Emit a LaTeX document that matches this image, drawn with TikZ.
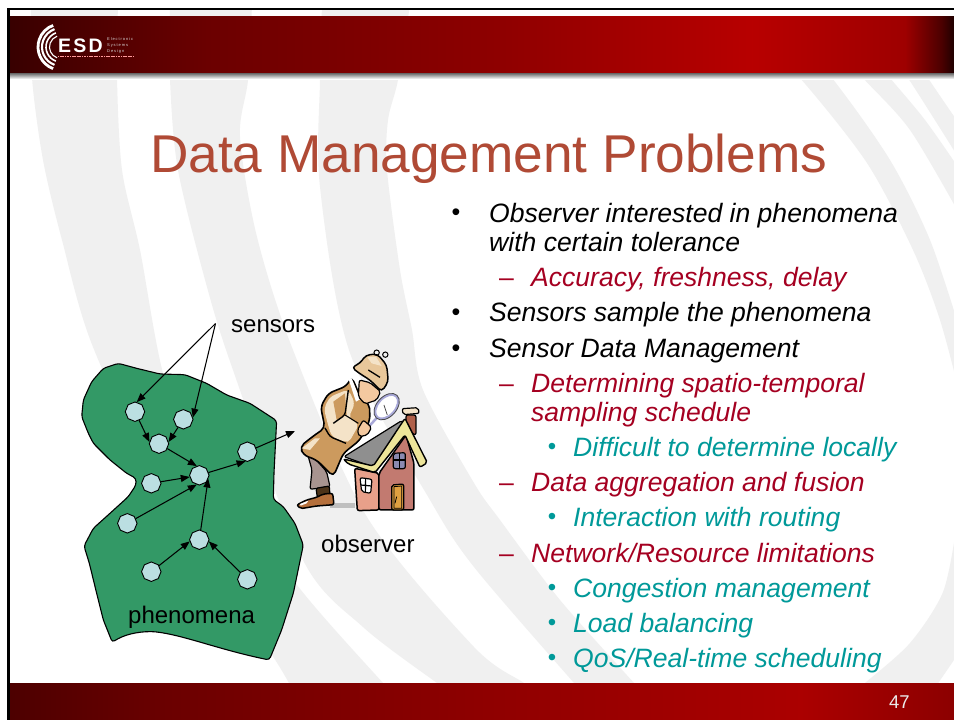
\documentclass[tikz,border=0pt]{standalone}
\usepackage{fontspec}
\setmainfont{Liberation Sans}
\newfontfamily\logofont[LetterSpace=23]{Liberation Sans}
\usetikzlibrary{arrows.meta,shapes.geometric}
\definecolor{swoosh}{HTML}{F0F0F0}
\definecolor{titlered}{HTML}{B04A35}
\definecolor{redtxt}{HTML}{A50021}
\definecolor{tealtxt}{HTML}{009999}
\definecolor{blobgreen}{HTML}{339966}
\definecolor{sensorfill}{HTML}{BBDFE2}
\definecolor{tanL}{HTML}{F4E3C8}
\definecolor{tanM}{HTML}{E8C79A}
\definecolor{tanD}{HTML}{CC9A5E}
\definecolor{skin}{HTML}{F4C9A0}
\definecolor{trouser}{HTML}{A89490}
\definecolor{shoe}{HTML}{B5703C}
\definecolor{wallL}{HTML}{E8A08A}
\definecolor{wallR}{HTML}{C27A70}
\definecolor{roofY}{HTML}{EDE59A}
\definecolor{roofG}{HTML}{8F8F8F}
\definecolor{chim}{HTML}{B0604A}
\definecolor{doorc}{HTML}{E0A040}
\definecolor{winc}{HTML}{8A8AB0}
\definecolor{lens}{HTML}{A8A8D8}
\pgfdeclarehorizontalshading{hdrshade}{100bp}{
  rgb(0bp)=(0.22,0,0); rgb(25bp)=(0.22,0,0);
  rgb(35.5bp)=(0.42,0,0);
  rgb(50.2bp)=(0.55,0,0);
  rgb(64.3bp)=(0.72,0,0);
  rgb(72.4bp)=(0.62,0,0);
  rgb(74.3bp)=(0.30,0,0);
  rgb(75bp)=(0.12,0,0);
  rgb(100bp)=(0.12,0,0)}
\pgfdeclarehorizontalshading{ftrshade}{100bp}{
  rgb(0bp)=(0.30,0,0); rgb(25bp)=(0.30,0,0);
  rgb(33.4bp)=(0.42,0,0);
  rgb(50.2bp)=(0.56,0,0);
  rgb(66.9bp)=(0.67,0,0);
  rgb(75bp)=(0.55,0,0);
  rgb(100bp)=(0.55,0,0)}
\tikzset{
  x=1pt,y=-1pt,
  swooshband/.style={fill=swoosh},
  titletext/.style={anchor=base west,inner sep=0pt,text=titlered,font=\fontsize{53.2}{60}\selectfont},
  labeltext/.style={anchor=base west,inner sep=0pt,text=black,font=\fontsize{24}{28}\selectfont},
  lineone/.style={anchor=base west,inner sep=0pt,text=black,font=\fontsize{26.55}{30}\selectfont\itshape},
  linetwo/.style={anchor=base west,inner sep=0pt,text=redtxt,font=\fontsize{26.55}{30}\selectfont\itshape},
  linethree/.style={anchor=base west,inner sep=0pt,text=tealtxt,font=\fontsize{26.55}{30}\selectfont\itshape},
  markone/.style={anchor=base,inner sep=0pt,text=black,font=\fontsize{25}{28}\selectfont},
  marktwo/.style={anchor=base west,inner sep=0pt,text=redtxt,font=\fontsize{26.55}{30}\selectfont},
  markthree/.style={anchor=base,inner sep=0pt,text=tealtxt,font=\fontsize{24}{26}\selectfont},
  logosmall/.style={anchor=north west,inner sep=0pt,align=left,text=white!85!black,font=\fontsize{4}{6}\logofont},
  sensor/.style={regular polygon,regular polygon sides=8,shape border rotate=22.5,
    draw=black,line width=0.9pt,fill=sensorfill,minimum size=19.5pt,inner sep=0pt},
  link/.style={draw=black,line width=1.05pt,-{Triangle[length=9pt,width=7pt]}},
  ink/.style={draw=black,line width=1.2pt,line join=round,rounded corners=2pt},
}
\begin{document}
\begin{tikzpicture}
\useasboundingbox (0,0) rectangle (954,720);
\fill[white] (0,0) rectangle (954,720);
\begin{scope}
\clip (9,9) rectangle (954,720);
% background swooshes
\fill[swooshband] plot[smooth,tension=0.5] coordinates {(31,5)(32,78)(43,160)(62,240)(93,347)(170,510)(270,652)(295,695)}
  -- plot[smooth,tension=0.5] coordinates {(395,695)(383,683)(297,585)(215,465)(167,387)(140,250)(122,170)(117,78)(118,5)} -- cycle;
\fill[swooshband] plot[smooth,tension=0.5] coordinates {(170,5)(170,80)(178,170)(207,287)(233,370)(303,560)(363,627)(437,683)(455,695)}
  -- plot[smooth,tension=0.5] coordinates {(540,695)(524,683)(474,647)(367,517)(293,350)(257,237)(240,137)(248,80)(252,5)} -- cycle;
\fill[swooshband] plot[smooth,tension=0.5] coordinates {(322,5)(320,80)(320,187)(350,353)(430,500)(474,567)(574,683)(585,695)}
  -- plot[smooth,tension=0.5] coordinates {(645,695)(634,683)(560,600)(500,520)(474,483)(423,390)(412,330)(400,270)(387,170)(388,120)(398,80)(410,5)} -- cycle;
\fill[swooshband] plot[smooth,tension=0.5] coordinates {(750,30)(800,78)(867,163)(913,250)(940,320)(960,395)}
  -- plot[smooth,tension=0.5] coordinates {(960,330)(930,240)(890,160)(832,78)(780,20)} -- cycle;
\fill[swooshband] plot[smooth,tension=0.5] coordinates {(820,30)(863,78)(910,130)(960,215)}
  -- plot[smooth,tension=0.5] coordinates {(960,170)(925,120)(890,78)(850,30)} -- cycle;
\fill[swooshband] plot[smooth,tension=0.5] coordinates {(880,40)(908,78)(960,160)}
  -- plot[smooth,tension=0.5] coordinates {(960,125)(928,78)(905,40)} -- cycle;
\fill[swooshband] plot[smooth,tension=0.5] coordinates {(956,530)(943,592)(910,643)(865,683)(850,695)}
  -- (930,695) -- (954,660) -- cycle;
\end{scope}
% frame, bars
\shade[shading=hdrshade] (9,16) rectangle (954,73);
\shade[top color=black!60,bottom color=white] (9,73) rectangle (954,79);
\shade[shading=ftrshade] (9,683.5) rectangle (954,720);
\fill[black] (7,7.5) rectangle (954,9.5);
\fill[black] (7,7.5) rectangle (9.5,720);
% logo
\foreach \r/\w in {23/2.8,19/2.1,15/1.6,11.5/1.1}{
  \draw[white,line width=\w pt] (61,47) ++(110:\r) arc[start angle=110,end angle=250,radius=\r];
}
\node[anchor=base west,inner sep=0pt,text=white,font=\fontsize{19.5}{20}\selectfont\bfseries] (esd) at (58,52) {E\kern2.2pt S\kern2.2pt D};
\node[logosmall] (elec) at (107,37.5) {Electronic\\Systems\\Design};
\draw[white!60!red,line width=0.8pt,dash pattern=on 1.2pt off 0.5pt] (58,56.5) -- (133,56.5);
% title
\node[titletext] (title) at (150,172) {Data Management Problems};
% text body
\node[markone] (b1) at (456,220.5) {•};
\node[lineone] (t1) at (489,222) {Observer interested in phenomena};
\node[lineone] (t2) at (489,251) {with certain tolerance};
\node[marktwo] (d1) at (499,286) {–};
\node[linetwo] (t3) at (531,286) {Accuracy, freshness, delay};
\node[markone] (b2) at (456,320.2) {•};
\node[lineone] (t4) at (489,321) {Sensors sample the phenomena};
\node[markone] (b3) at (456,356.2) {•};
\node[lineone] (t5) at (489,357) {Sensor Data Management};
\node[marktwo] (d2) at (499,392) {–};
\node[linetwo] (t6) at (531,392) {Determining spatio-temporal};
\node[linetwo] (t7) at (531,421) {sampling schedule};
\node[markthree] (c1) at (552,454.9) {•};
\node[linethree] (t8) at (573,456) {Difficult to determine locally};
\node[marktwo] (d3) at (499,491) {–};
\node[linetwo] (t9) at (531,491) {Data aggregation and fusion};
\node[markthree] (c2) at (552,524.9) {•};
\node[linethree] (t10) at (573,526) {Interaction with routing};
\node[marktwo] (d4) at (499,562) {–};
\node[linetwo] (t11) at (531,562) {Network/Resource limitations};
\node[markthree] (c3) at (552,595.9) {•};
\node[linethree] (t12) at (573,597) {Congestion management};
\node[markthree] (c4) at (552,630.9) {•};
\node[linethree] (t13) at (573,632) {Load balancing};
\node[markthree] (c5) at (552,665.9) {•};
\node[linethree] (t14) at (573,667) {QoS/Real-time scheduling};
\node[anchor=base west,inner sep=0pt,text=white!92!black,font=\fontsize{18.5}{20}\selectfont] (page) at (889,708) {47};
% phenomena blob
\begin{scope}[shift={(60,300)},x=0.3333pt,y=-0.3333pt]
\draw[draw=black,line width=1.1pt,fill=blobgreen,rounded corners=3pt]
  (175,190)--(130,205)--(95,245)--(70,300)--(65,350)--(85,400)--(100,430)--(150,480)--(200,520)--(228,535)--(228,555)--(205,590)--(150,640)--(100,685)--(72,738)--(88,790)--(110,880)--(130,960)--(157,1027)
  .. controls (190,1005) and (230,995) .. (280,995) .. controls (370,1005) and (480,1050) .. (628,1080)
  --(665,990)--(700,880)--(730,735)--(705,670)--(670,620)--(640,598)--(642,520)--(650,362)--(570,310)--(500,285)--(440,250)--(375,224)--(300,222)--(230,205)--cycle;
\end{scope}
% sensors
\node[sensor] (s1) at (135,411.7) {};
\node[sensor] (s2) at (183.3,419.3) {};
\node[sensor] (s3) at (159,443.7) {};
\node[sensor] (s4) at (247.3,451.7) {};
\node[sensor] (s5) at (199.3,475.3) {};
\node[sensor] (s6) at (151.3,483.3) {};
\node[sensor] (s7) at (127.3,523.3) {};
\node[sensor] (s8) at (199.3,539.7) {};
\node[sensor] (s9) at (151.3,571.7) {};
\node[sensor] (s10) at (247.3,579.3) {};
\coordinate (apex) at (215.5,323.5);
\coordinate (out) at (295,431);
\path[link] (apex) -- (s1.80);
\path[link] (apex) -- (s2.10);
\path[link] (s1) -- (s3.170);
\path[link] (s2) -- (s3.10);
\path[link] (s3) -- (s5.105);
\path[link] (s6) -- (s5.190);
\path[link] (s7) -- (s5.-105);
\path[link] (s8) -- (s5.-20);
\path[link] (s9) -- (s8.190);
\path[link] (s10) -- (s8.-10);
\path[link] (s5) -- (s4.-100);
\path[link] (s4) -- (out);
\node[labeltext] (lsens) at (231,332) {sensors};
\node[labeltext] (lphen) at (128,623) {phenomena};
\node[labeltext] (lobs) at (321,552) {observer};
% detective and house
\begin{scope}[shift={(280,340)},x=0.3333pt,y=-0.3333pt]
\fill[gray!50] (150,490) rectangle (226,504);
% trousers
\draw[ink,fill=trouser] (78,325)--(140,395)--(150,440)--(90,448)--(96,390)--cycle;
\draw[ink,fill=black!60!brown] (108,445)--(148,438)--(150,468)--(112,472)--cycle;
% shoe
\draw[ink,fill=shoe,line width=1.5pt] (50,495)--(80,480)--(110,472)--(130,462)--(158,460)--(162,494)--(110,498)--(62,506)--cycle;
\fill[white] (60,492)--(85,482)--(80,490)--(62,497)--cycle;
% coat
\draw[ink,fill=tanD,line width=1.6pt,rounded corners=5pt] (60,320)--(100,288)--(135,264)--(122,200)--(145,160)--(200,138)--(215,110)--(245,180)--(268,190)--(270,240)--(240,300)--(190,340)--(160,410)--(110,360)--(70,345)--cycle;
\fill[tanL,rounded corners=5pt] (132,205)--(150,170)--(205,148)--(225,190)--(205,235)--(238,252)--(205,310)--(155,290)--(140,240)--cycle;
\fill[tanD] (160,185)--(195,160)--(200,225)--(170,240)--cycle;
\fill[tanL] (65,325)--(105,295)--(120,295)--(90,330)--cycle;
\draw[black,line width=1.4pt,rounded corners=3pt] (205,150)--(195,225)--(160,250);
\draw[black,line width=1.1pt] (195,225)--(235,250);
\draw[black,line width=1.4pt,rounded corners=3pt] (135,264)--(150,290)--(198,310);
\fill[white] (205,115)--(215,115)--(240,178)--(228,185)--cycle;
% face
\draw[ink,fill=skin] (238,120)--(270,128)--(302,155)--(290,180)--(255,192)--(235,170)--cycle;
% hat
\draw[ink,fill=tanM,line width=1.5pt,rounded corners=4pt] (215,82)--(240,70)--(258,45)--(292,42)--(320,75)--(325,125)--(305,155)--(270,120)--(238,100)--cycle;
\fill[tanL] (262,52)--(288,50)--(305,78)--(275,70)--cycle;
\draw[black,line width=1pt] (290,38) circle[radius=8];
\draw[black,line width=1pt] (316,44) circle[radius=8];
\draw[black,line width=1.3pt] (265,90) -- (300,112);
% hand and magnifier
\draw[line width=2.5pt,draw=lens] (292,232)--(268,258);
\draw[line width=2.6pt,draw=lens,fill=white] (320,200) ellipse[x radius=43,y radius=27,rotate=48];
\draw[line width=0.8pt,draw=black!70] (320,200) ellipse[x radius=46,y radius=30,rotate=48];
\draw[black!70,line width=0.8pt] (312,195)--(322,225);
\draw[ink,fill=skin] (232,270)--(250,240)--(275,262)--(262,285)--(238,290)--cycle;
% house
\draw[ink,fill=wallL,line width=1.5pt] (224,385)--(297,400)--(297,510)--(232,512)--cycle;
\draw[ink,fill=wallR,line width=1.5pt] (297,400)--(378,285)--(402,370)--(402,510)--(297,510)--cycle;
\draw[ink,fill=chim] (378,225)--(408,225)--(408,285)--(395,280)--(378,245)--cycle;
\draw[ink,fill=tanL] (366,206)--(414,203)--(418,220)--(370,224)--cycle;
\draw[ink,fill=roofG] (192,350)--(365,242)--(375,245)--(282,382)--cycle;
\draw[ink,fill=roofY,line width=1.4pt] (190,357)--(280,378)--(375,235)--(442,368)--(420,382)--(375,285)--(285,398)--(205,372)--cycle;
\draw[ink,fill=white] (240,413)--(276,418)--(272,460)--(245,455)--cycle;
\draw[black,line width=1.2pt] (257,415)--(256,458) (242,435)--(274,438);
\draw[ink,fill=winc] (340,340)--(376,338)--(376,386)--(340,386)--cycle;
\draw[black,line width=1.2pt] (358,338)--(358,386) (340,360)--(376,360);
\draw[ink,fill=doorc,line width=1.3pt] (335,435)--(371,432)--(371,510)--(335,510)--cycle;
\draw[black,line width=0.8pt] (342,440)--(365,438)--(365,505)--(342,505)--cycle;
\draw[black,line width=0.8pt] (350,470)--(345,490);
\end{scope}
\end{tikzpicture}
\end{document}
